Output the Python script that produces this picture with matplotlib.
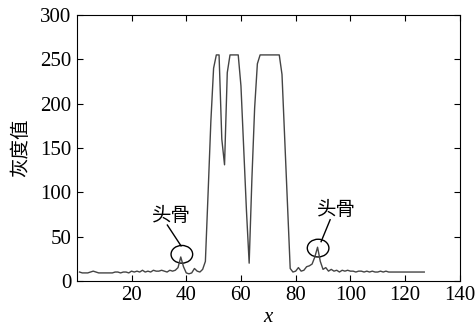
#!/usr/bin/env python3

"""
Gray-level profile along x, with the two skull peaks marked.
"""

import matplotlib
matplotlib.use("Agg")
import matplotlib.pyplot as plt
from matplotlib.patches import Ellipse
import numpy as np

# gray value at each pixel x = 1..127
gray = [10, 9, 9, 9, 10, 11, 10, 9, 9, 9,
        9, 9, 9, 10, 10, 9, 10, 10, 9, 11,
        10, 11, 10, 12, 10, 11, 10, 12, 11, 11,
        12, 11, 10, 12, 11, 12, 15, 27, 16, 9,
        8, 9, 14, 11, 10, 13, 22, 100, 180, 240,
        255, 255, 160, 131, 235, 255, 255, 255, 255, 220,
        150, 80, 20, 115, 195, 245, 255, 255, 255, 255,
        255, 255, 255, 255, 233, 160, 87, 14, 10, 11,
        15, 11, 12, 16, 17, 19, 27, 38, 22, 13,
        15, 11, 13, 11, 12, 10, 12, 11, 12, 11,
        11, 10, 11, 11, 10, 11, 10, 11, 10, 10,
        11, 10, 11, 10, 10, 10, 10, 10, 10, 10,
        10, 10, 10, 10, 10, 10, 10]
x = np.arange(1, len(gray) + 1)

labels = ["头骨", "头骨"]
peak_x = [38.4, 88.2]
peak_y = [30, 37]

plt.rcParams["font.family"] = ["Liberation Serif", "Noto Sans CJK SC"]
plt.rcParams["font.size"] = 15

fig = plt.figure(figsize=(4.77, 3.27), dpi=100)
ax = fig.add_axes([0.161, 0.141, 0.803, 0.813])

ax.plot(x, gray, color="#444444", lw=1.0)

# circles round the skull peaks, label above with a pointer line
text_pos = [(34.7, 74), (94.9, 81)]
line_from = [(33.1, 63), (92.6, 69)]
line_to = [(38.1, 39.5), (89.3, 44.3)]
for i in range(2):
    ax.add_patch(Ellipse((peak_x[i], peak_y[i]), 7.9, 20, fill=False,
                         lw=1.0, color="black"))
    ax.plot([line_from[i][0], line_to[i][0]], [line_from[i][1], line_to[i][1]],
            color="black", lw=1.0)
    ax.text(*text_pos[i], labels[i], ha="center", va="center",
            family=["Noto Sans CJK SC"], fontsize=14)

ax.set_xlim(0, 140)
ax.set_ylim(0, 300)
ax.set_xticks(range(20, 141, 20))
ax.set_yticks(range(0, 301, 50))
ax.tick_params(direction="in", top=True, right=True, length=4, pad=4)
ax.set_xlabel("x", fontstyle="italic", labelpad=2)
ax.set_ylabel("灰度值", family=["Noto Sans CJK SC"], fontsize=14, labelpad=6)

fig.savefig("out.png", dpi=100)
